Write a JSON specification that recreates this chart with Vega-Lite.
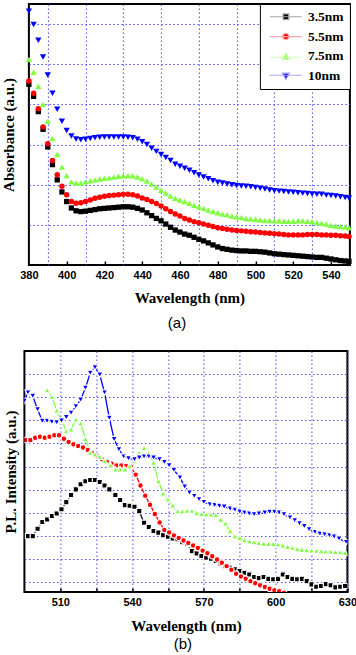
{
  "$schema": "https://vega.github.io/schema/vega-lite/v6.json",
  "padding": {"left": 0, "top": 2, "right": 0, "bottom": 0},
  "columns": 1,
  "center": true,
  "spacing": 18,
  "config": {
    "view": {"stroke": "black", "strokeWidth": 2},
    "axis": {
      "domain": false,
      "gridColor": "#4d4dff",
      "gridDash": [1.5, 2.5],
      "gridWidth": 1,
      "labelFont": "Liberation Sans",
      "labelFontWeight": "bold",
      "labelFontSize": 11,
      "labelColor": "black",
      "titleFont": "Liberation Serif",
      "titleFontWeight": "bold",
      "titleFontSize": 15,
      "titleColor": "black",
      "tickColor": "black",
      "tickWidth": 1.5,
      "labelFlush": false,
      "labelOverlap": false,
      "labelBound": false
    }
  },
  "resolve": {"scale": {"color": "independent", "shape": "independent", "stroke": "independent"}, "legend": {"color": "independent", "shape": "independent", "stroke": "independent"}},
  "datasets": {
    "abs": [
      {"w":380,"s":"3.5nm","v":4.50},{"w":382.5,"s":"3.5nm","v":4.20},{"w":385,"s":"3.5nm","v":3.82},{"w":387.5,"s":"3.5nm","v":3.38},{"w":390,"s":"3.5nm","v":2.94},{"w":392.5,"s":"3.5nm","v":2.50},{"w":395,"s":"3.5nm","v":2.12},{"w":397.5,"s":"3.5nm","v":1.82},{"w":400,"s":"3.5nm","v":1.58},{"w":402.5,"s":"3.5nm","v":1.42},{"w":405,"s":"3.5nm","v":1.35},{"w":407.5,"s":"3.5nm","v":1.33},{"w":410,"s":"3.5nm","v":1.34},{"w":412.5,"s":"3.5nm","v":1.36},{"w":415,"s":"3.5nm","v":1.38},{"w":417.5,"s":"3.5nm","v":1.40},{"w":420,"s":"3.5nm","v":1.41},{"w":422.5,"s":"3.5nm","v":1.42},{"w":425,"s":"3.5nm","v":1.43},{"w":427.5,"s":"3.5nm","v":1.44},{"w":430,"s":"3.5nm","v":1.45},{"w":432.5,"s":"3.5nm","v":1.45},{"w":435,"s":"3.5nm","v":1.44},{"w":437.5,"s":"3.5nm","v":1.41},{"w":440,"s":"3.5nm","v":1.37},{"w":442.5,"s":"3.5nm","v":1.30},{"w":445,"s":"3.5nm","v":1.23},{"w":447.5,"s":"3.5nm","v":1.16},{"w":450,"s":"3.5nm","v":1.10},{"w":452.5,"s":"3.5nm","v":1.02},{"w":455,"s":"3.5nm","v":0.94},{"w":457.5,"s":"3.5nm","v":0.87},{"w":460,"s":"3.5nm","v":0.82},{"w":462.5,"s":"3.5nm","v":0.77},{"w":465,"s":"3.5nm","v":0.74},{"w":467.5,"s":"3.5nm","v":0.69},{"w":470,"s":"3.5nm","v":0.64},{"w":472.5,"s":"3.5nm","v":0.60},{"w":475,"s":"3.5nm","v":0.55},{"w":477.5,"s":"3.5nm","v":0.50},{"w":480,"s":"3.5nm","v":0.45},{"w":482.5,"s":"3.5nm","v":0.41},{"w":485,"s":"3.5nm","v":0.39},{"w":487.5,"s":"3.5nm","v":0.37},{"w":490,"s":"3.5nm","v":0.36},{"w":492.5,"s":"3.5nm","v":0.35},{"w":495,"s":"3.5nm","v":0.35},{"w":497.5,"s":"3.5nm","v":0.34},{"w":500,"s":"3.5nm","v":0.34},{"w":502.5,"s":"3.5nm","v":0.33},{"w":505,"s":"3.5nm","v":0.32},{"w":507.5,"s":"3.5nm","v":0.30},{"w":510,"s":"3.5nm","v":0.28},{"w":512.5,"s":"3.5nm","v":0.27},{"w":515,"s":"3.5nm","v":0.26},{"w":517.5,"s":"3.5nm","v":0.25},{"w":520,"s":"3.5nm","v":0.24},{"w":522.5,"s":"3.5nm","v":0.23},{"w":525,"s":"3.5nm","v":0.22},{"w":527.5,"s":"3.5nm","v":0.21},{"w":530,"s":"3.5nm","v":0.20},{"w":532.5,"s":"3.5nm","v":0.19},{"w":535,"s":"3.5nm","v":0.19},{"w":537.5,"s":"3.5nm","v":0.17},{"w":540,"s":"3.5nm","v":0.15},{"w":542.5,"s":"3.5nm","v":0.13},{"w":545,"s":"3.5nm","v":0.11},{"w":547.5,"s":"3.5nm","v":0.10},{"w":549.5,"s":"3.5nm","v":0.09},
      {"w":380,"s":"5.5nm","v":4.58},{"w":382.5,"s":"5.5nm","v":4.28},{"w":385,"s":"5.5nm","v":3.89},{"w":387.5,"s":"5.5nm","v":3.44},{"w":390,"s":"5.5nm","v":3.02},{"w":392.5,"s":"5.5nm","v":2.60},{"w":395,"s":"5.5nm","v":2.25},{"w":397.5,"s":"5.5nm","v":1.96},{"w":400,"s":"5.5nm","v":1.75},{"w":402.5,"s":"5.5nm","v":1.58},{"w":405,"s":"5.5nm","v":1.54},{"w":407.5,"s":"5.5nm","v":1.55},{"w":410,"s":"5.5nm","v":1.58},{"w":412.5,"s":"5.5nm","v":1.62},{"w":415,"s":"5.5nm","v":1.66},{"w":417.5,"s":"5.5nm","v":1.69},{"w":420,"s":"5.5nm","v":1.71},{"w":422.5,"s":"5.5nm","v":1.73},{"w":425,"s":"5.5nm","v":1.74},{"w":427.5,"s":"5.5nm","v":1.75},{"w":430,"s":"5.5nm","v":1.76},{"w":432.5,"s":"5.5nm","v":1.76},{"w":435,"s":"5.5nm","v":1.75},{"w":437.5,"s":"5.5nm","v":1.72},{"w":440,"s":"5.5nm","v":1.67},{"w":442.5,"s":"5.5nm","v":1.63},{"w":445,"s":"5.5nm","v":1.58},{"w":447.5,"s":"5.5nm","v":1.53},{"w":450,"s":"5.5nm","v":1.47},{"w":452.5,"s":"5.5nm","v":1.40},{"w":455,"s":"5.5nm","v":1.33},{"w":457.5,"s":"5.5nm","v":1.27},{"w":460,"s":"5.5nm","v":1.22},{"w":462.5,"s":"5.5nm","v":1.16},{"w":465,"s":"5.5nm","v":1.12},{"w":467.5,"s":"5.5nm","v":1.08},{"w":470,"s":"5.5nm","v":1.05},{"w":472.5,"s":"5.5nm","v":1.02},{"w":475,"s":"5.5nm","v":0.99},{"w":477.5,"s":"5.5nm","v":0.96},{"w":480,"s":"5.5nm","v":0.93},{"w":482.5,"s":"5.5nm","v":0.91},{"w":485,"s":"5.5nm","v":0.89},{"w":487.5,"s":"5.5nm","v":0.87},{"w":490,"s":"5.5nm","v":0.86},{"w":492.5,"s":"5.5nm","v":0.85},{"w":495,"s":"5.5nm","v":0.84},{"w":497.5,"s":"5.5nm","v":0.83},{"w":500,"s":"5.5nm","v":0.82},{"w":502.5,"s":"5.5nm","v":0.81},{"w":505,"s":"5.5nm","v":0.80},{"w":507.5,"s":"5.5nm","v":0.79},{"w":510,"s":"5.5nm","v":0.78},{"w":512.5,"s":"5.5nm","v":0.77},{"w":515,"s":"5.5nm","v":0.76},{"w":517.5,"s":"5.5nm","v":0.75},{"w":520,"s":"5.5nm","v":0.75},{"w":522.5,"s":"5.5nm","v":0.75},{"w":525,"s":"5.5nm","v":0.75},{"w":527.5,"s":"5.5nm","v":0.76},{"w":530,"s":"5.5nm","v":0.76},{"w":532.5,"s":"5.5nm","v":0.76},{"w":535,"s":"5.5nm","v":0.75},{"w":537.5,"s":"5.5nm","v":0.75},{"w":540,"s":"5.5nm","v":0.74},{"w":542.5,"s":"5.5nm","v":0.74},{"w":545,"s":"5.5nm","v":0.73},{"w":547.5,"s":"5.5nm","v":0.72},{"w":549.5,"s":"5.5nm","v":0.71},
      {"w":380,"s":"7.5nm","v":5.12},{"w":382.5,"s":"7.5nm","v":4.80},{"w":385,"s":"7.5nm","v":4.45},{"w":387.5,"s":"7.5nm","v":4.00},{"w":390,"s":"7.5nm","v":3.58},{"w":392.5,"s":"7.5nm","v":3.15},{"w":395,"s":"7.5nm","v":2.75},{"w":397.5,"s":"7.5nm","v":2.44},{"w":400,"s":"7.5nm","v":2.23},{"w":402.5,"s":"7.5nm","v":2.07},{"w":405,"s":"7.5nm","v":2.04},{"w":407.5,"s":"7.5nm","v":2.04},{"w":410,"s":"7.5nm","v":2.07},{"w":412.5,"s":"7.5nm","v":2.10},{"w":415,"s":"7.5nm","v":2.12},{"w":417.5,"s":"7.5nm","v":2.14},{"w":420,"s":"7.5nm","v":2.16},{"w":422.5,"s":"7.5nm","v":2.17},{"w":425,"s":"7.5nm","v":2.19},{"w":427.5,"s":"7.5nm","v":2.21},{"w":430,"s":"7.5nm","v":2.22},{"w":432.5,"s":"7.5nm","v":2.22},{"w":435,"s":"7.5nm","v":2.22},{"w":437.5,"s":"7.5nm","v":2.19},{"w":440,"s":"7.5nm","v":2.15},{"w":442.5,"s":"7.5nm","v":2.09},{"w":445,"s":"7.5nm","v":2.02},{"w":447.5,"s":"7.5nm","v":1.94},{"w":450,"s":"7.5nm","v":1.86},{"w":452.5,"s":"7.5nm","v":1.79},{"w":455,"s":"7.5nm","v":1.72},{"w":457.5,"s":"7.5nm","v":1.66},{"w":460,"s":"7.5nm","v":1.62},{"w":462.5,"s":"7.5nm","v":1.58},{"w":465,"s":"7.5nm","v":1.54},{"w":467.5,"s":"7.5nm","v":1.49},{"w":470,"s":"7.5nm","v":1.45},{"w":472.5,"s":"7.5nm","v":1.41},{"w":475,"s":"7.5nm","v":1.37},{"w":477.5,"s":"7.5nm","v":1.33},{"w":480,"s":"7.5nm","v":1.30},{"w":482.5,"s":"7.5nm","v":1.27},{"w":485,"s":"7.5nm","v":1.25},{"w":487.5,"s":"7.5nm","v":1.22},{"w":490,"s":"7.5nm","v":1.20},{"w":492.5,"s":"7.5nm","v":1.18},{"w":495,"s":"7.5nm","v":1.16},{"w":497.5,"s":"7.5nm","v":1.15},{"w":500,"s":"7.5nm","v":1.14},{"w":502.5,"s":"7.5nm","v":1.12},{"w":505,"s":"7.5nm","v":1.11},{"w":507.5,"s":"7.5nm","v":1.11},{"w":510,"s":"7.5nm","v":1.10},{"w":512.5,"s":"7.5nm","v":1.10},{"w":515,"s":"7.5nm","v":1.09},{"w":517.5,"s":"7.5nm","v":1.09},{"w":520,"s":"7.5nm","v":1.09},{"w":522.5,"s":"7.5nm","v":1.10},{"w":525,"s":"7.5nm","v":1.10},{"w":527.5,"s":"7.5nm","v":1.09},{"w":530,"s":"7.5nm","v":1.08},{"w":532.5,"s":"7.5nm","v":1.06},{"w":535,"s":"7.5nm","v":1.04},{"w":537.5,"s":"7.5nm","v":1.02},{"w":540,"s":"7.5nm","v":0.99},{"w":542.5,"s":"7.5nm","v":0.97},{"w":545,"s":"7.5nm","v":0.96},{"w":547.5,"s":"7.5nm","v":0.95},{"w":549.5,"s":"7.5nm","v":0.93},
      {"w":380,"s":"10nm","v":6.32},{"w":382.5,"s":"10nm","v":5.99},{"w":385,"s":"10nm","v":5.60},{"w":387.5,"s":"10nm","v":5.18},{"w":390,"s":"10nm","v":4.73},{"w":392.5,"s":"10nm","v":4.28},{"w":395,"s":"10nm","v":3.88},{"w":397.5,"s":"10nm","v":3.58},{"w":400,"s":"10nm","v":3.35},{"w":402.5,"s":"10nm","v":3.21},{"w":405,"s":"10nm","v":3.14},{"w":407.5,"s":"10nm","v":3.12},{"w":410,"s":"10nm","v":3.13},{"w":412.5,"s":"10nm","v":3.15},{"w":415,"s":"10nm","v":3.17},{"w":417.5,"s":"10nm","v":3.18},{"w":420,"s":"10nm","v":3.19},{"w":422.5,"s":"10nm","v":3.19},{"w":425,"s":"10nm","v":3.19},{"w":427.5,"s":"10nm","v":3.19},{"w":430,"s":"10nm","v":3.19},{"w":432.5,"s":"10nm","v":3.18},{"w":435,"s":"10nm","v":3.17},{"w":437.5,"s":"10nm","v":3.13},{"w":440,"s":"10nm","v":3.07},{"w":442.5,"s":"10nm","v":3.00},{"w":445,"s":"10nm","v":2.91},{"w":447.5,"s":"10nm","v":2.83},{"w":450,"s":"10nm","v":2.75},{"w":452.5,"s":"10nm","v":2.68},{"w":455,"s":"10nm","v":2.60},{"w":457.5,"s":"10nm","v":2.51},{"w":460,"s":"10nm","v":2.46},{"w":462.5,"s":"10nm","v":2.41},{"w":465,"s":"10nm","v":2.36},{"w":467.5,"s":"10nm","v":2.30},{"w":470,"s":"10nm","v":2.24},{"w":472.5,"s":"10nm","v":2.19},{"w":475,"s":"10nm","v":2.15},{"w":477.5,"s":"10nm","v":2.10},{"w":480,"s":"10nm","v":2.06},{"w":482.5,"s":"10nm","v":2.04},{"w":485,"s":"10nm","v":2.02},{"w":487.5,"s":"10nm","v":2.00},{"w":490,"s":"10nm","v":1.98},{"w":492.5,"s":"10nm","v":1.97},{"w":495,"s":"10nm","v":1.96},{"w":497.5,"s":"10nm","v":1.95},{"w":500,"s":"10nm","v":1.93},{"w":502.5,"s":"10nm","v":1.91},{"w":505,"s":"10nm","v":1.89},{"w":507.5,"s":"10nm","v":1.87},{"w":510,"s":"10nm","v":1.85},{"w":512.5,"s":"10nm","v":1.84},{"w":515,"s":"10nm","v":1.83},{"w":517.5,"s":"10nm","v":1.82},{"w":520,"s":"10nm","v":1.81},{"w":522.5,"s":"10nm","v":1.80},{"w":525,"s":"10nm","v":1.79},{"w":527.5,"s":"10nm","v":1.78},{"w":530,"s":"10nm","v":1.77},{"w":532.5,"s":"10nm","v":1.76},{"w":535,"s":"10nm","v":1.76},{"w":537.5,"s":"10nm","v":1.74},{"w":540,"s":"10nm","v":1.73},{"w":542.5,"s":"10nm","v":1.72},{"w":545,"s":"10nm","v":1.70},{"w":547.5,"s":"10nm","v":1.68},{"w":549.5,"s":"10nm","v":1.67}
    ],
    "pl": [
      {"w":496.5,"s":"3.5nm","v":1.99},{"w":498.5,"s":"3.5nm","v":1.99},{"w":500.5,"s":"3.5nm","v":2.31},{"w":502.5,"s":"3.5nm","v":2.60},{"w":504.5,"s":"3.5nm","v":2.71},{"w":506.5,"s":"3.5nm","v":2.86},{"w":508.5,"s":"3.5nm","v":2.97},{"w":510.5,"s":"3.5nm","v":3.15},{"w":512.5,"s":"3.5nm","v":3.46},{"w":514.5,"s":"3.5nm","v":3.77},{"w":516.5,"s":"3.5nm","v":4.01},{"w":518.5,"s":"3.5nm","v":4.23},{"w":520.5,"s":"3.5nm","v":4.36},{"w":522.5,"s":"3.5nm","v":4.42},{"w":524.5,"s":"3.5nm","v":4.42},{"w":526.5,"s":"3.5nm","v":4.33},{"w":528.5,"s":"3.5nm","v":4.18},{"w":530.5,"s":"3.5nm","v":4.01},{"w":533,"s":"3.5nm","v":3.77},{"w":535,"s":"3.5nm","v":3.55},{"w":537,"s":"3.5nm","v":3.33},{"w":539,"s":"3.5nm","v":3.30},{"w":541,"s":"3.5nm","v":3.26},{"w":543,"s":"3.5nm","v":3.07},{"w":545,"s":"3.5nm","v":2.57},{"w":547,"s":"3.5nm","v":2.38},{"w":549,"s":"3.5nm","v":2.21},{"w":551,"s":"3.5nm","v":2.14},{"w":553,"s":"3.5nm","v":2.03},{"w":555,"s":"3.5nm","v":1.96},{"w":557,"s":"3.5nm","v":1.89},{"w":559,"s":"3.5nm","v":1.85},{"w":561,"s":"3.5nm","v":1.73},{"w":563,"s":"3.5nm","v":1.66},{"w":565,"s":"3.5nm","v":1.34},{"w":567,"s":"3.5nm","v":1.24},{"w":569,"s":"3.5nm","v":1.13},{"w":571,"s":"3.5nm","v":1.05},{"w":573,"s":"3.5nm","v":1.01},{"w":575,"s":"3.5nm","v":0.91},{"w":577,"s":"3.5nm","v":0.81},{"w":579,"s":"3.5nm","v":0.69},{"w":581,"s":"3.5nm","v":0.62},{"w":583,"s":"3.5nm","v":0.55},{"w":585,"s":"3.5nm","v":0.48},{"w":587,"s":"3.5nm","v":0.40},{"w":589,"s":"3.5nm","v":0.33},{"w":591,"s":"3.5nm","v":0.22},{"w":593,"s":"3.5nm","v":0.17},{"w":595,"s":"3.5nm","v":0.22},{"w":597,"s":"3.5nm","v":0.14},{"w":599,"s":"3.5nm","v":0.12},{"w":601,"s":"3.5nm","v":0.14},{"w":603,"s":"3.5nm","v":0.33},{"w":605,"s":"3.5nm","v":0.22},{"w":607,"s":"3.5nm","v":0.14},{"w":609,"s":"3.5nm","v":0.12},{"w":611,"s":"3.5nm","v":0.14},{"w":613,"s":"3.5nm","v":0.04},{"w":615,"s":"3.5nm","v":-0.10},{"w":617,"s":"3.5nm","v":-0.20},{"w":619,"s":"3.5nm","v":-0.17},{"w":621,"s":"3.5nm","v":-0.09},{"w":623,"s":"3.5nm","v":-0.14},{"w":625,"s":"3.5nm","v":-0.23},{"w":627,"s":"3.5nm","v":-0.20},{"w":629,"s":"3.5nm","v":-0.17},
      {"w":495.5,"s":"5.5nm","v":6.15},{"w":497.5,"s":"5.5nm","v":6.15},{"w":499.5,"s":"5.5nm","v":6.25},{"w":501.5,"s":"5.5nm","v":6.29},{"w":503.5,"s":"5.5nm","v":6.25},{"w":505.5,"s":"5.5nm","v":6.29},{"w":507.5,"s":"5.5nm","v":6.35},{"w":509.5,"s":"5.5nm","v":6.35},{"w":511.5,"s":"5.5nm","v":6.20},{"w":513.5,"s":"5.5nm","v":6.06},{"w":515.5,"s":"5.5nm","v":5.96},{"w":517.5,"s":"5.5nm","v":5.89},{"w":519.5,"s":"5.5nm","v":5.82},{"w":521.5,"s":"5.5nm","v":5.72},{"w":523.5,"s":"5.5nm","v":5.57},{"w":525.5,"s":"5.5nm","v":5.43},{"w":527.5,"s":"5.5nm","v":5.31},{"w":529.5,"s":"5.5nm","v":5.20},{"w":531.5,"s":"5.5nm","v":5.12},{"w":533.5,"s":"5.5nm","v":5.05},{"w":535.5,"s":"5.5nm","v":5.05},{"w":537.5,"s":"5.5nm","v":5.02},{"w":539.5,"s":"5.5nm","v":5.00},{"w":541.5,"s":"5.5nm","v":4.65},{"w":543.5,"s":"5.5nm","v":4.18},{"w":545.5,"s":"5.5nm","v":3.74},{"w":547.5,"s":"5.5nm","v":3.35},{"w":549.5,"s":"5.5nm","v":2.95},{"w":551.5,"s":"5.5nm","v":2.58},{"w":553.5,"s":"5.5nm","v":2.25},{"w":555.5,"s":"5.5nm","v":2.15},{"w":557.5,"s":"5.5nm","v":2.02},{"w":559.5,"s":"5.5nm","v":1.91},{"w":561.5,"s":"5.5nm","v":1.80},{"w":563.5,"s":"5.5nm","v":1.69},{"w":565.5,"s":"5.5nm","v":1.58},{"w":567.5,"s":"5.5nm","v":1.47},{"w":569.5,"s":"5.5nm","v":1.36},{"w":571.5,"s":"5.5nm","v":1.25},{"w":573.5,"s":"5.5nm","v":1.12},{"w":575.5,"s":"5.5nm","v":0.98},{"w":577.5,"s":"5.5nm","v":0.84},{"w":579.5,"s":"5.5nm","v":0.69},{"w":581.5,"s":"5.5nm","v":0.53},{"w":583.5,"s":"5.5nm","v":0.36},{"w":585.5,"s":"5.5nm","v":0.24},{"w":587.5,"s":"5.5nm","v":0.14},{"w":589.5,"s":"5.5nm","v":0.04},{"w":591.5,"s":"5.5nm","v":-0.05},{"w":593.5,"s":"5.5nm","v":-0.14},{"w":595.5,"s":"5.5nm","v":-0.21},{"w":597.5,"s":"5.5nm","v":-0.29},{"w":599.5,"s":"5.5nm","v":-0.35},{"w":601.5,"s":"5.5nm","v":-0.40},{"w":603.5,"s":"5.5nm","v":-0.46},
      {"w":504.5,"s":"7.5nm","v":8.31},{"w":506.5,"s":"7.5nm","v":8.02},{"w":508.5,"s":"7.5nm","v":7.43},{"w":510.5,"s":"7.5nm","v":7.00},{"w":512.5,"s":"7.5nm","v":6.54},{"w":514.5,"s":"7.5nm","v":6.61},{"w":516.5,"s":"7.5nm","v":7.04},{"w":518.5,"s":"7.5nm","v":6.87},{"w":520.5,"s":"7.5nm","v":6.20},{"w":522.5,"s":"7.5nm","v":5.60},{"w":524.5,"s":"7.5nm","v":5.53},{"w":526.5,"s":"7.5nm","v":5.43},{"w":528.5,"s":"7.5nm","v":5.24},{"w":531,"s":"7.5nm","v":5.05},{"w":533,"s":"7.5nm","v":4.88},{"w":535,"s":"7.5nm","v":4.88},{"w":537,"s":"7.5nm","v":4.88},{"w":539,"s":"7.5nm","v":5.02},{"w":541,"s":"7.5nm","v":5.24},{"w":543,"s":"7.5nm","v":5.60},{"w":545,"s":"7.5nm","v":5.81},{"w":547,"s":"7.5nm","v":5.60},{"w":549,"s":"7.5nm","v":5.17},{"w":551,"s":"7.5nm","v":4.37},{"w":553,"s":"7.5nm","v":3.84},{"w":555,"s":"7.5nm","v":3.58},{"w":557,"s":"7.5nm","v":3.32},{"w":559,"s":"7.5nm","v":3.07},{"w":561,"s":"7.5nm","v":3.06},{"w":563,"s":"7.5nm","v":3.09},{"w":565,"s":"7.5nm","v":3.09},{"w":567,"s":"7.5nm","v":3.00},{"w":569,"s":"7.5nm","v":2.96},{"w":571,"s":"7.5nm","v":2.93},{"w":573,"s":"7.5nm","v":2.93},{"w":575,"s":"7.5nm","v":2.90},{"w":577,"s":"7.5nm","v":2.71},{"w":579,"s":"7.5nm","v":2.54},{"w":581,"s":"7.5nm","v":2.21},{"w":583,"s":"7.5nm","v":1.99},{"w":585,"s":"7.5nm","v":1.92},{"w":587,"s":"7.5nm","v":1.82},{"w":589,"s":"7.5nm","v":1.77},{"w":591,"s":"7.5nm","v":1.73},{"w":593,"s":"7.5nm","v":1.70},{"w":595,"s":"7.5nm","v":1.67},{"w":597,"s":"7.5nm","v":1.66},{"w":599,"s":"7.5nm","v":1.66},{"w":601,"s":"7.5nm","v":1.63},{"w":603,"s":"7.5nm","v":1.59},{"w":605,"s":"7.5nm","v":1.53},{"w":607,"s":"7.5nm","v":1.49},{"w":609,"s":"7.5nm","v":1.44},{"w":611,"s":"7.5nm","v":1.41},{"w":613,"s":"7.5nm","v":1.39},{"w":615,"s":"7.5nm","v":1.37},{"w":617,"s":"7.5nm","v":1.36},{"w":619,"s":"7.5nm","v":1.34},{"w":621,"s":"7.5nm","v":1.33},{"w":623,"s":"7.5nm","v":1.33},{"w":625,"s":"7.5nm","v":1.31},{"w":627,"s":"7.5nm","v":1.30},{"w":629,"s":"7.5nm","v":1.27},
      {"w":495,"s":"10nm","v":7.84},{"w":496.5,"s":"10nm","v":8.20},{"w":498.5,"s":"10nm","v":8.05},{"w":500.5,"s":"10nm","v":7.47},{"w":502.5,"s":"10nm","v":6.97},{"w":504.5,"s":"10nm","v":6.97},{"w":506.5,"s":"10nm","v":6.93},{"w":508.5,"s":"10nm","v":6.91},{"w":510.5,"s":"10nm","v":6.98},{"w":512.5,"s":"10nm","v":7.13},{"w":514.5,"s":"10nm","v":7.32},{"w":516.5,"s":"10nm","v":7.60},{"w":518.5,"s":"10nm","v":7.89},{"w":520.5,"s":"10nm","v":8.40},{"w":522.5,"s":"10nm","v":9.05},{"w":524.5,"s":"10nm","v":9.29},{"w":526.5,"s":"10nm","v":8.97},{"w":528.5,"s":"10nm","v":8.20},{"w":530.5,"s":"10nm","v":7.10},{"w":532.5,"s":"10nm","v":6.18},{"w":534.5,"s":"10nm","v":5.74},{"w":536.5,"s":"10nm","v":5.43},{"w":538.5,"s":"10nm","v":5.35},{"w":541,"s":"10nm","v":5.31},{"w":543,"s":"10nm","v":5.38},{"w":545,"s":"10nm","v":5.43},{"w":547,"s":"10nm","v":5.43},{"w":549,"s":"10nm","v":5.38},{"w":551.5,"s":"10nm","v":5.31},{"w":553.5,"s":"10nm","v":5.19},{"w":555.5,"s":"10nm","v":5.05},{"w":557.5,"s":"10nm","v":4.85},{"w":560,"s":"10nm","v":4.52},{"w":562,"s":"10nm","v":4.13},{"w":564,"s":"10nm","v":3.87},{"w":566,"s":"10nm","v":3.72},{"w":568,"s":"10nm","v":3.58},{"w":570,"s":"10nm","v":3.46},{"w":572.5,"s":"10nm","v":3.36},{"w":574.5,"s":"10nm","v":3.33},{"w":576.5,"s":"10nm","v":3.29},{"w":578.5,"s":"10nm","v":3.26},{"w":581,"s":"10nm","v":3.17},{"w":583,"s":"10nm","v":3.12},{"w":585,"s":"10nm","v":3.04},{"w":587,"s":"10nm","v":3.00},{"w":589,"s":"10nm","v":2.96},{"w":591,"s":"10nm","v":2.93},{"w":593,"s":"10nm","v":2.96},{"w":595.5,"s":"10nm","v":3.00},{"w":597.5,"s":"10nm","v":3.03},{"w":599.5,"s":"10nm","v":3.03},{"w":601.5,"s":"10nm","v":3.00},{"w":603.5,"s":"10nm","v":2.93},{"w":606,"s":"10nm","v":2.79},{"w":608,"s":"10nm","v":2.67},{"w":610,"s":"10nm","v":2.54},{"w":612,"s":"10nm","v":2.42},{"w":614,"s":"10nm","v":2.28},{"w":616.5,"s":"10nm","v":2.16},{"w":618.5,"s":"10nm","v":2.09},{"w":620.5,"s":"10nm","v":2.06},{"w":622.5,"s":"10nm","v":2.02},{"w":624.5,"s":"10nm","v":1.96},{"w":626.5,"s":"10nm","v":1.88},{"w":629.5,"s":"10nm","v":1.73}
    ]
  },
  "concat": [
    {
      "width": 321,
      "height": 261,
      "title": {"text": "(a)", "orient": "bottom", "anchor": "middle", "frame": "bounds", "font": "Liberation Sans", "fontSize": 15, "fontWeight": "normal", "color": "black", "offset": 11},
      "data": {"name": "abs"},
      "encoding": {
        "x": {"field": "w", "type": "quantitative",
          "scale": {"domain": [380, 550], "nice": false, "zero": false},
          "axis": {"title": "Wavelength (nm)", "values": [380,390,400,410,420,430,440,450,460,470,480,490,500,510,520,530,540],
            "labelExpr": "datum.value % 20 == 0 ? datum.label : ''",
            "grid": true,
            "gridOpacity": {"condition": {"test": "datum.value % 20 == 10", "value": 1}, "value": 0},
            "tickOpacity": {"condition": {"test": "datum.value % 20 == 0 && datum.value > 380", "value": 1}, "value": 0},
            "tickSize": -4, "labelPadding": 8, "titlePadding": 10}},
        "y": {"field": "v", "type": "quantitative",
          "scale": {"domain": [0, 6.5], "nice": false, "zero": false},
          "axis": {"title": "Absorbance (a.u.)", "values": [1,2,3,4,5,6], "labels": false, "ticks": false, "grid": true, "titlePadding": 12}}
      },
      "layer": [
        {"transform": [{"filter": "datum.s === '3.5nm'"}], "mark": {"type": "point", "shape": "square", "filled": true, "size": 28, "color": "#000000", "opacity": 1, "strokeWidth": 0}},
        {"transform": [{"filter": "datum.s === '5.5nm'"}], "mark": {"type": "point", "shape": "circle", "filled": true, "size": 30, "color": "#ff0000", "opacity": 1, "strokeWidth": 0}},
        {"transform": [{"filter": "datum.s === '7.5nm'"}], "mark": {"type": "point", "shape": "triangle-up", "filled": true, "size": 40, "color": "#80ff40", "opacity": 1, "strokeWidth": 0}},
        {"transform": [{"filter": "datum.s === '10nm'"}], "mark": {"type": "point", "shape": "triangle-down", "filled": true, "size": 40, "color": "#0000ff", "opacity": 1, "strokeWidth": 0}},
        {
          "transform": [{"filter": "false"}],
          "mark": {"type": "point", "filled": true, "opacity": 1},
          "encoding": {
            "color": {"field": "s", "type": "nominal",
              "scale": {"domain": ["3.5nm","5.5nm","7.5nm","10nm"], "range": ["#000000","#ff0000","#80ff40","#0000ff"]},
              "legend": {"title": null, "orient": "top-right", "offset": 0, "fillColor": "white", "strokeColor": "black", "padding": 6,
                "labelFont": "Liberation Serif", "labelFontWeight": "bold", "labelFontSize": 13.5, "labelColor": "black",
                "symbolSize": 36, "symbolOpacity": 1, "symbolStrokeWidth": 1.2, "symbolOffset": 13.3, "labelOffset": 15.3, "rowPadding": 4.8}},
            "shape": {"field": "s", "type": "nominal",
              "scale": {"domain": ["3.5nm","5.5nm","7.5nm","10nm"], "range": ["M-5.3,0H5.3M-0.95,-0.95H0.95V0.95H-0.95Z","M-5.3,0H5.3M1.05,0A1.05,1.05,0,1,1,-1.05,0A1.05,1.05,0,1,1,1.05,0Z","M-5.3,0.3H5.3M0,-1.1L1.2,1L-1.2,1Z","M-5.3,-0.3H5.3M0,1.1L1.2,-1L-1.2,-1Z"]},
              "legend": null},
            "stroke": {"field": "s", "type": "nominal",
              "scale": {"domain": ["3.5nm","5.5nm","7.5nm","10nm"], "range": ["#a6a6a6","#ffa6a6","#cfffb5","#a6a6ff"]},
              "legend": null}
          }
        }
      ]
    },
    {
      "width": 323,
      "height": 241,
      "title": {"text": "(b)", "orient": "bottom", "anchor": "middle", "frame": "group", "dx": -3, "font": "Liberation Sans", "fontSize": 15, "fontWeight": "normal", "color": "black", "offset": 4},
      "data": {"name": "pl"},
      "encoding": {
        "x": {"field": "w", "type": "quantitative",
          "scale": {"domain": [495, 630], "nice": false, "zero": false},
          "axis": {"title": "Wavelength (nm)", "values": [510,525,540,555,570,585,600,615,630],
            "labelExpr": "datum.value % 30 == 0 ? datum.label : ''",
            "grid": true, "tickSize": -4, "labelPadding": 8, "titlePadding": 11}},
        "y": {"field": "v", "type": "quantitative",
          "scale": {"domain": [-0.43, 10], "nice": false, "zero": false},
          "axis": {"title": "P.L. Intensity (a.u.)", "values": [0,1,2,3,4,5,6,7,8,9], "labels": false, "ticks": false, "grid": true, "titlePadding": 6}}
      },
      "layer": [
        {
          "mark": {"type": "line", "strokeWidth": 1.3, "clip": true},
          "encoding": {
            "stroke": {"field": "s", "type": "nominal",
              "scale": {"domain": ["3.5nm","5.5nm","7.5nm","10nm"], "range": ["#000000","#ff0000","#80ff40","#0000ff"]},
              "legend": null}
          }
        },
        {"transform": [{"filter": "datum.s === '3.5nm'"}], "mark": {"type": "point", "shape": "square", "filled": true, "size": 28, "color": "#000000", "opacity": 1, "stroke": "white", "strokeWidth": 1.2, "clip": true}},
        {"transform": [{"filter": "datum.s === '5.5nm'"}], "mark": {"type": "point", "shape": "circle", "filled": true, "size": 32, "color": "#ff0000", "opacity": 1, "stroke": "white", "strokeWidth": 1.2, "clip": true}},
        {"transform": [{"filter": "datum.s === '7.5nm'"}], "mark": {"type": "point", "shape": "triangle-up", "filled": true, "size": 42, "color": "#80ff40", "opacity": 1, "stroke": "white", "strokeWidth": 1.2, "clip": true}},
        {"transform": [{"filter": "datum.s === '10nm'"}], "mark": {"type": "point", "shape": "triangle-down", "filled": true, "size": 42, "color": "#0000ff", "opacity": 1, "stroke": "white", "strokeWidth": 1.2, "clip": true}},
        {
          "transform": [{"filter": "false"}],
          "mark": {"type": "point", "filled": true, "opacity": 1},
          "encoding": {
            "color": {"field": "s", "type": "nominal",
              "scale": {"domain": ["3.5nm","5.5nm","7.5nm","10nm"], "range": ["#000000","#ff0000","#80ff40","#0000ff"]},
              "legend": {"title": null, "orient": "top-right", "offset": 0, "fillColor": "white", "strokeColor": "black", "padding": 4.5,
                "labelFont": "Liberation Serif", "labelFontWeight": "bold", "labelFontSize": 13, "labelColor": "black",
                "symbolSize": 36, "symbolOpacity": 1, "symbolStrokeWidth": 2, "symbolOffset": 9.7, "labelOffset": 15, "rowPadding": 3}},
            "shape": {"field": "s", "type": "nominal",
              "scale": {"domain": ["3.5nm","5.5nm","7.5nm","10nm"], "range": ["M-5.45,0H5.45M-0.95,-0.95H0.95V0.95H-0.95Z","M-5.45,0H5.45M1.05,0A1.05,1.05,0,1,1,-1.05,0A1.05,1.05,0,1,1,1.05,0Z","M-5.45,0.3H5.45M0,-1.1L1.2,1L-1.2,1Z","M-5.45,-0.3H5.45M0,1.1L1.2,-1L-1.2,-1Z"]},
              "legend": null},
            "stroke": {"field": "s", "type": "nominal",
              "scale": {"domain": ["3.5nm","5.5nm","7.5nm","10nm"], "range": ["#000000","#ff0000","#80ff40","#0000ff"]},
              "legend": null}
          }
        }
      ]
    }
  ]
}
